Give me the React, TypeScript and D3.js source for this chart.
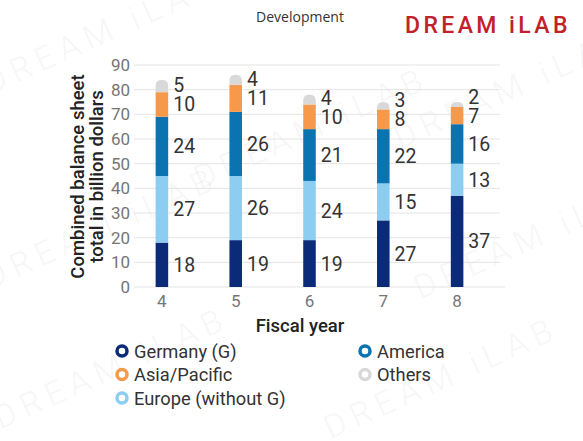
import React from "react";
import * as d3 from "d3";

const years = ["4", "5", "6", "7", "8"];
const seriesNames = ["Germany (G)", "Europe (without G)", "America", "Asia/Pacific", "Others"];
const germany = [18, 19, 19, 27, 37];
const europe = [27, 26, 24, 15, 13];
const america = [24, 26, 21, 22, 16];
const asiaPacific = [10, 11, 10, 8, 7];
const others = [5, 4, 4, 3, 2];
const colors = ["#0b2a78", "#8dcdf2", "#0a73b0", "#f7994a", "#d9d9d9"];
const yTicks = [0, 10, 20, 30, 40, 50, 60, 70, 80, 90];
const legendOrder = [
  { idx: 0, col: 0, row: 0 },
  { idx: 2, col: 1, row: 0 },
  { idx: 3, col: 0, row: 1 },
  { idx: 4, col: 1, row: 1 },
  { idx: 1, col: 0, row: 2 },
];

const FONT = "Roboto, 'Noto Sans', sans-serif";

export default function App() {
  const W = 583, H = 441;
  const values = [germany, europe, america, asiaPacific, others];
  const table = years.map((y, i) => {
    const o: any = { year: y };
    seriesNames.forEach((s, k) => (o[s] = values[k][i]));
    return o;
  });
  const stack = d3.stack<any>().keys(seriesNames)(table);

  const x = d3.scaleBand().domain(years).range([125, 494]).paddingInner(0.83).paddingOuter(0.415);
  const y = d3.scaleLinear().domain([0, 90]).range([287, 65]);
  const bw = x.bandwidth();

  const watermarks = [
    { x: -10, y: 95 }, { x: 400, y: 150 }, { x: 200, y: 190 },
    { x: -10, y: 290 }, { x: 420, y: 300 }, { x: 0, y: 430 }, { x: 330, y: 440 },
  ];

  return (
    <svg width={W} height={H} style={{ position: "absolute", left: 0, top: 0, background: "#fff" }}>
      <rect width={W} height={H} fill="#fff" />
      {watermarks.map((w, i) => (
        <text key={i} x={w.x} y={w.y} transform={`rotate(-24 ${w.x} ${w.y})`} fontFamily={FONT}
          fontSize={34} letterSpacing={6} fill="#000" fillOpacity={0.03}>DREAM iLAB</text>
      ))}
      <text x={300} y={22} textAnchor="middle" fontFamily="'Open Sans', sans-serif" fontSize={14} fill="#333">Development</text>
      <text x={405} y={33} fontFamily={FONT} fontSize={23} fontWeight={500} letterSpacing={3.4} fill="#c1212b">DREAM iLAB</text>

      {yTicks.map((t) => (
        <g key={t}>
          <line x1={134} x2={t === 0 ? 505 : 500} y1={y(t)} y2={y(t)} stroke="#e4e4e4" strokeWidth={1} />
          <text x={130} y={y(t)} dy="0.35em" textAnchor="end" fontFamily={FONT} fontSize={17} fill="#757575">{t}</text>
        </g>
      ))}

      {stack.map((layer, k) =>
        layer.map((d, i) => {
          const x0 = x(years[i])!;
          const top = y(d[1]);
          const bot = y(d[0]);
          if (k === seriesNames.length - 1) {
            const h = bot - top;
            const r = Math.min(bw / 2, h);
            const p = d3.path();
            p.moveTo(x0, bot);
            p.lineTo(x0, top + r);
            p.quadraticCurveTo(x0, top, x0 + bw / 2, top);
            p.quadraticCurveTo(x0 + bw, top, x0 + bw, top + r);
            p.lineTo(x0 + bw, bot);
            p.closePath();
            return <path key={`${k}-${i}`} d={p.toString()} fill={colors[k]} />;
          }
          return <rect key={`${k}-${i}`} x={x0} y={top} width={bw} height={bot - top} fill={colors[k]} />;
        })
      )}

      {years.map((yr, i) => {
        const pos = stack.map((layer) => y((layer[i][0] + layer[i][1]) / 2));
        const adj = [...pos];
        for (let k = 1; k < adj.length; k++) {
          if (adj[k - 1] - adj[k] < 19) adj[k] = adj[k - 1] - 19;
        }
        return (
          <g key={yr}>
            {stack.map((layer, k) => (
              <text key={k} x={x(yr)! + bw + 5} y={adj[k]} dy="0.36em" fontFamily={FONT} fontSize={19.5} fill="#333">
                {values[k][i]}
              </text>
            ))}
            <text x={x(yr)! + bw / 2} y={307} textAnchor="middle" fontFamily={FONT} fontSize={17} fill="#757575">{yr}</text>
          </g>
        );
      })}

      <text x={300} y={332} textAnchor="middle" fontFamily={FONT} fontSize={18.5} fontWeight={500} fill="#222">Fiscal year</text>
      <g transform="translate(84,176.5) rotate(-90)">
        <text x={0} y={0} textAnchor="middle" fontFamily={FONT} fontSize={18.5} fontWeight={500} fill="#222">Combined balance sheet</text>
        <text x={0} y={19} textAnchor="middle" fontFamily={FONT} fontSize={18.5} fontWeight={500} fill="#222">total in billion dollars</text>
      </g>

      {legendOrder.map((l) => {
        const cx = l.col === 0 ? 122 : 365;
        const cy = 351 + l.row * 23.5;
        return (
          <g key={l.idx}>
            <circle cx={cx} cy={cy} r={5} fill="#fff" stroke={colors[l.idx]} strokeWidth={3.5} />
            <text x={cx + 12} y={cy} dy="0.36em" fontFamily={FONT} fontSize={18.3} fill="#333">{seriesNames[l.idx]}</text>
          </g>
        );
      })}
    </svg>
  );
}
